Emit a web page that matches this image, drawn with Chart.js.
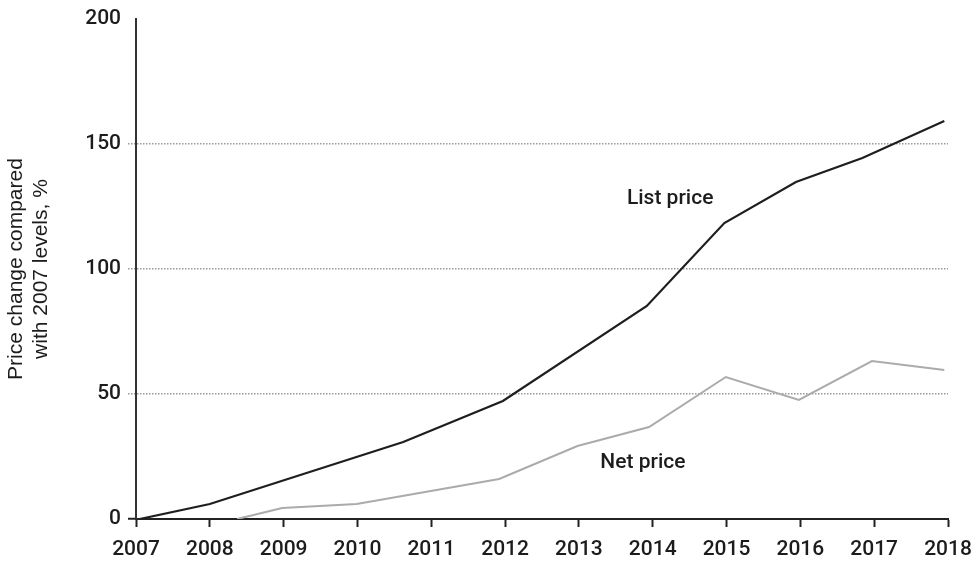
<!DOCTYPE html>
<html>
<head>
<meta charset="utf-8">
<title>Price change compared with 2007 levels</title>
<script src="https://cdn.jsdelivr.net/npm/chart.js@4/dist/chart.umd.min.js"></script>
<style>
  html, body { margin: 0; padding: 0; background: #fff; }
  #chart { display: block; }
</style>
</head>
<body>
<canvas id="chart" width="978" height="561"></canvas>
<script>
// list price vs net price, % change relative to 2007
const listYears  = [2007.05, 2008.0, 2010.62, 2011.97, 2013.92, 2014.97, 2015.94, 2016.84, 2017.95];
const listValues = [0, 6, 30.8, 47.2, 85.2, 118.4, 134.8, 144.4, 159.2];
const netYears   = [2008.37, 2008.98, 2009.99, 2011.92, 2012.98, 2013.95, 2014.99, 2015.98, 2016.97, 2017.95];
const netValues  = [0, 4.4, 6, 16, 29.2, 36.8, 56.8, 47.6, 63.2, 59.6];

const yearMin = 2007;
const yearMax = 2018;
const yTicks = [0, 50, 100, 150, 200];
const yTitle = ['Price change compared', 'with 2007 levels, %'];

// inline series labels, anchored in data units
const seriesLabels = [
  { text: 'List price', x: 2013.65, y: 128 },
  { text: 'Net price', x: 2013.29, y: 22.4 }
];

const toPoints = (xs, ys) => xs.map((x, i) => ({ x: x, y: ys[i] }));

const seriesLabelPlugin = {
  id: 'seriesLabels',
  afterDatasetsDraw(chart) {
    const { ctx, scales } = chart;
    ctx.save();
    ctx.font = '500 21px Roboto';
    ctx.fillStyle = '#1c1c1c';
    ctx.textAlign = 'left';
    ctx.textBaseline = 'middle';
    seriesLabels.forEach(l => {
      ctx.fillText(l.text, scales.x.getPixelForValue(l.x), scales.y.getPixelForValue(l.y));
    });
    ctx.restore();
  }
};

const dotted = [1.5, 1.5];
const tickFont = { family: 'Roboto', size: 21, weight: '500' };

new Chart(document.getElementById('chart'), {
  type: 'line',
  data: {
    datasets: [
      {
        label: 'List price',
        data: toPoints(listYears, listValues),
        borderColor: '#1e1e1e',
        borderWidth: 2.2,
        pointRadius: 0,
        tension: 0,
        fill: false
      },
      {
        label: 'Net price',
        data: toPoints(netYears, netValues),
        borderColor: '#ababab',
        borderWidth: 2,
        pointRadius: 0,
        tension: 0,
        fill: false
      }
    ]
  },
  options: {
    responsive: false,
    animation: false,
    layout: { padding: { top: 19, right: 30, left: 0, bottom: 0 } },
    plugins: {
      legend: { display: false },
      tooltip: { enabled: false }
    },
    scales: {
      x: {
        type: 'linear',
        min: yearMin,
        max: yearMax,
        afterFit: scale => {
          scale.height = 42;
          scale.paddingLeft = 0;
          scale.paddingRight = 0;
        },
        ticks: {
          stepSize: 1,
          padding: 10,
          color: '#1c1c1c',
          font: tickFont,
          callback: v => String(v)
        },
        grid: {
          drawOnChartArea: false,
          drawTicks: true,
          tickLength: 8,
          tickColor: '#222',
          tickWidth: 2
        },
        border: { color: '#222', width: 2 }
      },
      y: {
        min: 0,
        max: 200,
        afterFit: scale => {
          scale.width = 136;
          scale.paddingTop = 0;
          scale.paddingBottom = 0;
        },
        afterBuildTicks: scale => { scale.ticks = yTicks.map(v => ({ value: v })); },
        ticks: {
          padding: 7,
          color: '#1c1c1c',
          font: tickFont
        },
        grid: {
          color: ctx => (ctx.tick && ctx.tick.value > 0 && ctx.tick.value < 200) ? '#9a9a9a' : 'rgba(0,0,0,0)',
          lineWidth: 1.5,
          tickLength: 8,
          tickColor: ctx => {
            if (!ctx.tick) return 'rgba(0,0,0,0)';
            if (ctx.tick.value === 0) return '#222';
            if (ctx.tick.value === 200) return 'rgba(0,0,0,0)';
            return '#9a9a9a';
          },
          tickWidth: ctx => (ctx.tick && ctx.tick.value === 0) ? 2 : 1.5,
          tickBorderDash: ctx => (ctx.tick && ctx.tick.value === 0) ? [] : dotted
        },
        border: { color: '#333', width: 2, dash: dotted },
        title: {
          display: true,
          text: yTitle,
          color: '#1c1c1c',
          font: { family: 'Liberation Sans', size: 21, lineHeight: 1.19 },
          padding: { top: 4, bottom: 0 }
        }
      }
    }
  },
  plugins: [seriesLabelPlugin]
});
</script>
</body>
</html>
